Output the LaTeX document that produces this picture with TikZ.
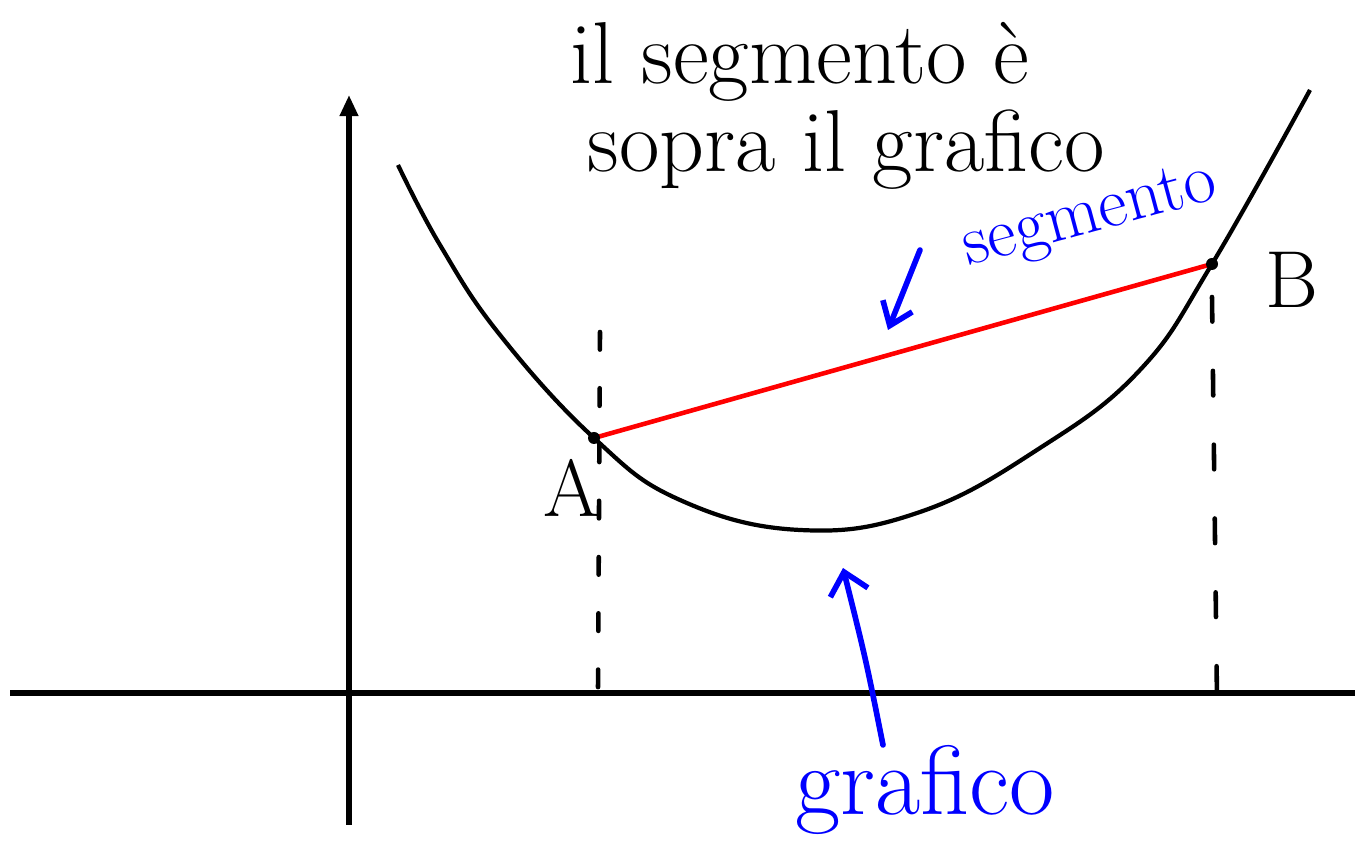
\documentclass[tikz,border=0pt]{standalone}
\usetikzlibrary{arrows.meta}
\begin{document}
\begin{tikzpicture}[x=0.01cm,y=-0.01cm,
    axis/.style={line width=1.5pt},
    blu/.style={blue, line width=1.6pt, line cap=round},
    drop/.style={line width=1.3pt, line cap=round}]
    \useasboundingbox (0,0) rectangle (1357,868);
    % axes
    \draw[axis] (10,693) -- (1355,693);
    \draw[axis, -{Triangle[length=6pt,width=5pt]}] (349,825) -- (349,95);
    % the graph
    \draw[line width=1.2pt, line join=round] plot[smooth, tension=0.7] coordinates {
      (398,165) (440,245) (500,335) (594,438) (680,500) (800,530)
      (920,512) (1040,448) (1140,370) (1212,264) (1310,90)};
    \coordinate (A) at (594,438);
    \coordinate (B) at (1212,264);
    % dashed drops to the x axis
    \draw[drop, dash pattern=on 5pt off 11pt] (600,332) -- (598,690);
    \draw[drop, dash pattern=on 7pt off 14pt] (1212,297) -- (1217,700);
    % the segment AB
    \draw[red, line width=1.3pt] (A) -- (B);
    \foreach \p in {A,B}
      \fill (\p) circle (6);
    \node[font=\fontsize{23}{28}\selectfont] (lblA) at (572,488) {A};
    \node[font=\fontsize{23}{28}\selectfont] (lblB) at (1292,280) {B};
    % remark on top
    \node[font=\fontsize{25}{30}\selectfont] (line1) at (800,62) {il segmento è};
    \node[font=\fontsize{25}{30}\selectfont] (line2) at (846,150) {sopra il grafico};
    % blue labels
    \node[blue, rotate=15, inner sep=0pt, font=\fontsize{20}{24}\selectfont] (seglbl) at (1090,218) {segmento};
    \coordinate (segfrom) at (920,250);
    \coordinate (segto) at (888,330);
    \draw[blu, -{Straight Barb[length=6pt,width=9pt]}] (segfrom) -- (segto);
    \node[blue, font=\fontsize{28}{34}\selectfont] (grlbl) at (925,790) {grafico};
    \coordinate (grfrom) at (883,745);
    \coordinate (grto) at (843,568);
    \draw[blu, -{Straight Barb[length=6pt,width=11pt]}] (grfrom) .. controls (866,660) .. (grto);
\end{tikzpicture}
\end{document}
